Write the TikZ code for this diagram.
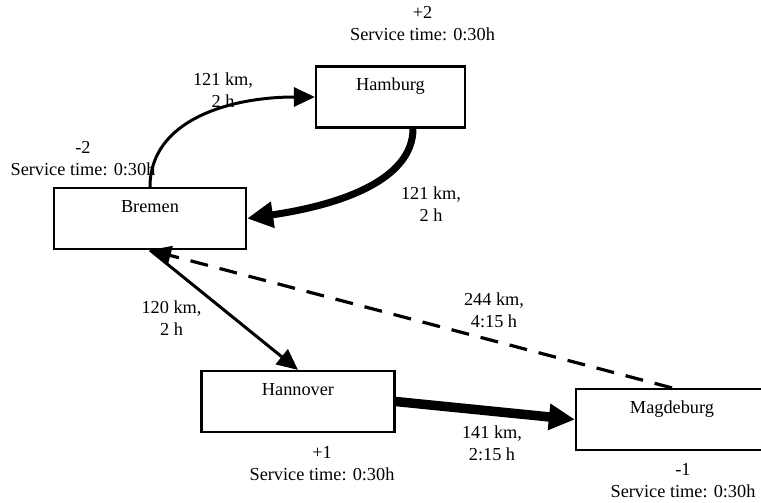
\documentclass[tikz,border=0pt]{standalone}
\usepackage{fontspec}
\setmainfont{Liberation Serif}
\usetikzlibrary{arrows.meta,positioning}

\begin{document}
\begin{tikzpicture}[x=1pt, y=-1pt, font=\fontsize{18.3}{22}\selectfont,
    city/.style={draw, line width=2.2pt, minimum height=61pt, inner ysep=5pt,
      text height=19pt, text depth=32pt},
    info/.style={align=center},
    dist/.style={align=center},
    road/.style={line width=3pt, -{Triangle[length=21pt,width=19pt]}},
    mainroad/.style={line width=7pt, -{Triangle[length=26pt,width=25pt]}}]
    \useasboundingbox (0,0) rectangle (761,503);

    % cities
    \node[city, minimum width=149pt] (hamburg) at (390.5,97) {Hamburg};
    \node[city, minimum width=192pt] (bremen) at (150,218.5) {Bremen};
    \node[city, minimum width=193pt] (hannover) at (298,401.5) {Hannover};
    \node[city, minimum width=192pt] (magdeburg) at (672,419.5) {Magdeburg};

    % demand and service time
    \node[info] (hamburginfo) at (422.5,23.5) {+2\\Service time: 0:30h};
    \node[info] (bremeninfo) at (83,159) {-2\\Service time: 0:30h};
    \node[info] (hannoverinfo) at (322,464) {+1\\Service time: 0:30h};
    \node[info] (magdeburginfo) at (683,481) {-1\\Service time: 0:30h};

    % routes
    \draw[road] (bremen.north) .. controls (150,120) and (230,97) .. (hamburg.west);
    \draw[mainroad] ([xshift=22.5pt]hamburg.south) .. controls (413,180) and (340,205) .. (bremen.east);
    \draw[road] (bremen.south) -- (hannover.north);
    \draw[road, line width=3.2pt, dash pattern=on 18pt off 12pt] (magdeburg.north) -- (bremen.south);
    \draw[mainroad, line width=9.5pt] (hannover.east) -- (magdeburg.west);

    % distances
    \node[dist] (d1) at (223,90) {121 km,\\2 h};
    \node[dist] (d2) at (431,204) {121 km,\\2 h};
    \node[dist] (d3) at (171.5,318) {120 km,\\2 h};
    \node[dist] (d4) at (494,310) {244 km,\\4:15 h};
    \node[dist] (d5) at (492,443) {141 km,\\2:15 h};
\end{tikzpicture}
\end{document}
